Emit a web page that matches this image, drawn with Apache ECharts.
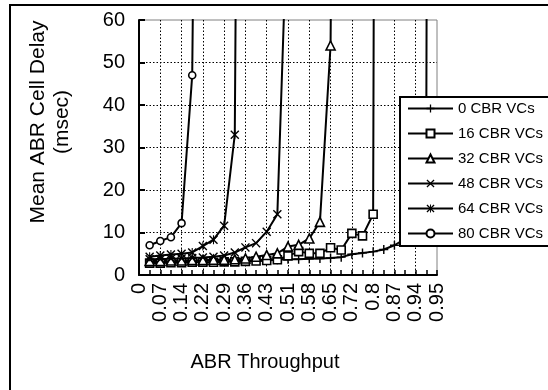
<!DOCTYPE html>
<html><head><meta charset="utf-8">
<script src="https://cdn.jsdelivr.net/npm/echarts@6/dist/echarts.min.js"></script>
<style>html,body{margin:0;padding:0;background:#fff}#c{width:548px;height:390px}</style>
</head><body><div id="c"></div>
<script>
const categories = ['0','0.04','0.07','0.11','0.14','0.18','0.22','0.25','0.29','0.33','0.36','0.4','0.43','0.47','0.51','0.54','0.58','0.61','0.65','0.69','0.72','0.76','0.8','0.83','0.87','0.9','0.94','0.945','0.95'];
const yTicks = [0,10,20,30,40,50,60];
const seriesNames = ['0 CBR VCs','16 CBR VCs','32 CBR VCs','48 CBR VCs','64 CBR VCs','80 CBR VCs'];
const cbr0  = [null,3.2,3.2,3.3,3.3,3.3,3.4,3.4,3.4,3.5,3.5,3.5,3.6,3.6,3.7,3.7,3.8,3.9,4.0,4.2,4.9,5.2,5.5,6.0,7.0,8.5,12,40,1000];
const cbr16 = [null,2.8,2.8,2.9,2.9,3.0,3.0,3.0,3.1,3.1,3.2,3.3,3.4,3.6,4.5,5.5,5.1,5.1,6.4,5.9,9.8,9.2,14.3,900,null,null,null,null,null];
const cbr32 = [null,3.3,3.3,3.4,3.4,3.5,3.5,3.6,3.6,3.7,3.9,4.3,4.7,5.1,6.7,7.1,8.6,12.5,54,400,null,null,null,null,null,null,null,null,null];
const cbr48 = [null,3.7,3.7,3.8,3.9,4.0,4.1,4.3,4.6,5.3,6.5,7.5,10.2,14.3,90,null,null,null,null,null,null,null,null,null,null,null,null,null,null];
const cbr64 = [null,4.3,4.6,4.8,5.0,5.3,6.8,8.3,11.6,33,400,null,null,null,null,null,null,null,null,null,null,null,null,null,null,null,null,null,null];
const cbr80 = [null,7.0,8.0,8.9,12.2,47,300,null,null,null,null,null,null,null,null,null,null,null,null,null,null,null,null,null,null,null,null,null,null];

const FONT = 'Liberation Sans, Arial, sans-serif';
const PLUS = 'path://M4.2,0H5.8V4.2H10V5.8H5.8V10H4.2V5.8H0V4.2H4.2Z';
const CROSS = 'path://M0,1.1L1.1,0L5,3.9L8.9,0L10,1.1L6.1,5L10,8.9L8.9,10L5,6.1L1.1,10L0,8.9L3.9,5Z';
const STAR = 'path://M0,1.1L1.1,0L5,3.9L8.9,0L10,1.1L6.1,5L10,8.9L8.9,10L5,6.1L1.1,10L0,8.9L3.9,5Z M4.4,0H5.6V10H4.4Z';

const specs = [
  {data: cbr0,  symbol: PLUS,       size: 9, fill: '#000'},
  {data: cbr16, symbol: 'rect',     size: 8, fill: '#fff'},
  {data: cbr32, symbol: 'triangle', size: 9, fill: '#fff'},
  {data: cbr48, symbol: CROSS,      size: 9, fill: '#000'},
  {data: cbr64, symbol: STAR,       size: 9, fill: '#000'},
  {data: cbr80, symbol: 'circle',   size: 7, fill: '#fff'}
];

const series = specs.map((s, i) => ({
  name: seriesNames[i],
  type: 'line',
  data: s.data,
  symbol: s.symbol,
  symbolSize: s.size,
  showSymbol: true,
  showAllSymbol: true,
  clip: true,
  connectNulls: false,
  lineStyle: {color: '#000', width: 2},
  itemStyle: {color: s.fill, borderColor: '#000', borderWidth: (s.fill === '#fff') ? 1.6 : 0},
  emphasis: {disabled: true},
  animation: false
}));

const chart = echarts.init(document.getElementById('c'), null, {renderer: 'canvas'});
chart.setOption({
  animation: false,
  backgroundColor: '#fff',
  textStyle: {fontFamily: FONT, color: '#000'},
  grid: {left: 139, right: 111, top: 20, bottom: 115, show: true, borderColor: '#808080', borderWidth: 1, backgroundColor: 'transparent'},
  xAxis: {
    type: 'category',
    data: categories,
    boundaryGap: false,
    axisLine: {lineStyle: {color: '#000', width: 2}},
    axisTick: {inside: true, length: 5, interval: 0, lineStyle: {color: '#000', width: 1.5}},
    axisLabel: {interval: 1, rotate: 90, fontSize: 20, margin: 8, color: '#000', fontFamily: FONT},
    splitLine: {show: true, interval: (idx) => idx % 2 === 0 && idx > 0 && idx < categories.length - 1,
      lineStyle: {color: '#000', width: 1, type: [1.5, 2]}}
  },
  yAxis: {
    type: 'value',
    min: yTicks[0], max: yTicks[yTicks.length - 1], interval: 10,
    axisLine: {show: true, lineStyle: {color: '#000', width: 2}},
    axisTick: {show: true, inside: true, length: 6, lineStyle: {color: '#000', width: 2}},
    axisLabel: {fontSize: 20, margin: 14, color: '#000', fontFamily: FONT},
    splitLine: {show: true, showMinLine: false, showMaxLine: false, lineStyle: {color: '#000', width: 1, type: [1.5, 2]}}
  },
  legend: {
    orient: 'vertical',
    left: 400, top: 97,
    data: seriesNames,
    itemWidth: 45, itemHeight: 10, itemGap: 10,
    padding: [4, 40, 5, 7],
    backgroundColor: '#fff',
    borderColor: '#000', borderWidth: 2,
    textStyle: {fontSize: 15, lineHeight: 15, color: '#000', fontFamily: FONT},
    selectedMode: false
  },
  graphic: [
    {type: 'rect', shape: {x: 10, y: 5, width: 600, height: 500}, style: {fill: 'none', stroke: '#000', lineWidth: 2}, z: -1, silent: true},
    {type: 'text', x: 50, y: 122, rotation: Math.PI / 2,
     style: {text: 'Mean ABR Cell Delay\n(msec)', font: '21px ' + FONT, fill: '#000', align: 'center', verticalAlign: 'middle', lineHeight: 24}},
    {type: 'text', x: 265, y: 362,
     style: {text: 'ABR Throughput', font: '20px ' + FONT, fill: '#000', align: 'center', verticalAlign: 'middle'}}
  ],
  series: series
});
</script>
</body></html>
